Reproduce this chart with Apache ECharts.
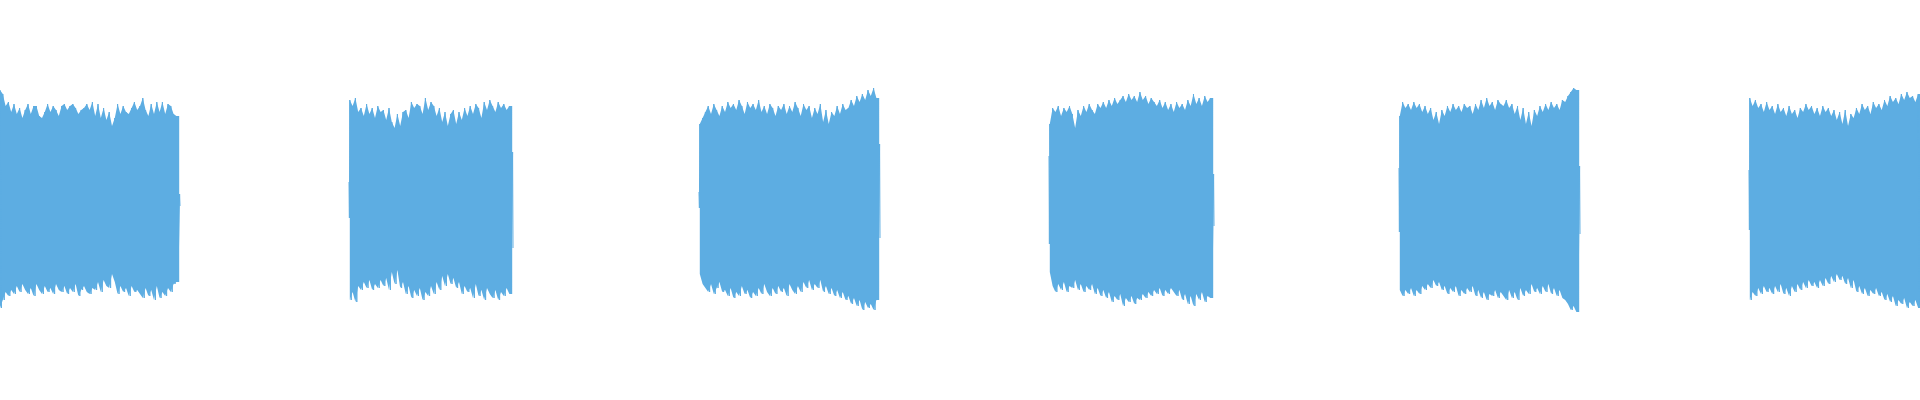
<!DOCTYPE html>
<html>
<head>
<meta charset="utf-8">
<title>waveform</title>
<script src="https://cdn.jsdelivr.net/npm/echarts@6/dist/echarts.min.js"></script>
<style>
    html, body { margin: 0; padding: 0; background: #fff; }
    #wave { width: 1920px; height: 400px; }
</style>
</head>
<body>
<div id="wave"></div>
<script>
// burst start / end on the time axis (ms)
var burst_start = [0, 349, 699, 1049, 1399, 1749];
var burst_end = [180, 513, 880, 1214, 1580, 1921];

// positive peaks of every burst
// (a small first / last value is the switch-on / switch-off edge)
var peaks_hi_1 = [0.55,0.53,0.47,0.49,0.44,0.48,0.43,0.46,0.41,0.45,
    0.48,0.43,0.47,0.47,0.42,0.41,0.44,0.48,0.44,0.47,
    0.45,0.42,0.47,0.48,0.45,0.47,0.48,0.46,0.43,0.45,
    0.46,0.48,0.45,0.49,0.42,0.48,0.41,0.46,0.40,0.44,
    0.37,0.41,0.48,0.43,0.47,0.44,0.43,0.46,0.49,0.45,
    0.47,0.51,0.45,0.42,0.48,0.43,0.49,0.44,0.49,0.43,
    0.48,0.47,0.43,0.42,0.03];
var peaks_hi_2 = [0.09,0.50,0.47,0.51,0.44,0.46,0.42,0.48,0.43,0.46,
    0.41,0.47,0.44,0.45,0.40,0.46,0.39,0.36,0.43,0.37,
    0.44,0.45,0.41,0.49,0.46,0.48,0.47,0.43,0.51,0.45,
    0.49,0.47,0.42,0.46,0.39,0.44,0.37,0.43,0.45,0.38,
    0.44,0.40,0.46,0.42,0.47,0.43,0.48,0.46,0.41,0.49,
    0.45,0.50,0.47,0.44,0.49,0.46,0.48,0.45,0.47,0.24];
var peaks_hi_3 = [0.04,0.38,0.41,0.44,0.47,0.43,0.48,0.45,0.42,0.47,
    0.44,0.49,0.46,0.48,0.45,0.50,0.47,0.43,0.49,0.46,
    0.48,0.45,0.50,0.44,0.47,0.43,0.48,0.46,0.42,0.47,
    0.45,0.48,0.43,0.47,0.44,0.49,0.46,0.42,0.48,0.45,
    0.47,0.41,0.46,0.43,0.48,0.39,0.45,0.38,0.44,0.42,
    0.47,0.43,0.48,0.45,0.46,0.50,0.47,0.52,0.49,0.53,
    0.50,0.55,0.52,0.56,0.51,0.28];
var peaks_hi_4 = [0.22,0.38,0.46,0.44,0.47,0.42,0.46,0.44,0.47,0.43,
    0.36,0.45,0.42,0.47,0.44,0.48,0.45,0.43,0.48,0.46,
    0.49,0.46,0.50,0.47,0.51,0.48,0.50,0.52,0.49,0.53,
    0.50,0.52,0.49,0.54,0.50,0.52,0.48,0.51,0.49,0.47,
    0.50,0.46,0.49,0.45,0.48,0.44,0.49,0.46,0.48,0.45,
    0.50,0.47,0.53,0.48,0.51,0.47,0.52,0.49,0.51,0.13];
var peaks_hi_5 = [0.16,0.42,0.49,0.46,0.48,0.45,0.49,0.46,0.48,0.44,
    0.47,0.43,0.46,0.40,0.44,0.38,0.45,0.42,0.47,0.44,
    0.48,0.45,0.47,0.44,0.48,0.46,0.47,0.43,0.48,0.45,
    0.50,0.46,0.51,0.47,0.49,0.45,0.50,0.48,0.47,0.50,
    0.46,0.48,0.43,0.47,0.40,0.46,0.38,0.44,0.37,0.45,
    0.42,0.47,0.44,0.48,0.45,0.49,0.46,0.48,0.45,0.50,
    0.49,0.52,0.54,0.56,0.55,0.17];
var peaks_hi_6 = [0.15,0.51,0.47,0.50,0.46,0.48,0.44,0.49,0.45,0.47,
    0.43,0.48,0.44,0.46,0.42,0.47,0.43,0.45,0.41,0.46,
    0.44,0.48,0.45,0.47,0.43,0.46,0.42,0.47,0.44,0.46,
    0.42,0.45,0.40,0.44,0.38,0.45,0.37,0.43,0.41,0.46,
    0.43,0.48,0.45,0.47,0.43,0.49,0.46,0.48,0.45,0.50,
    0.47,0.52,0.49,0.51,0.48,0.53,0.50,0.54,0.51,0.52,
    0.49,0.53];

// negative peaks of every burst
var peaks_lo_1 = [-0.54,-0.50,-0.46,-0.48,-0.45,-0.47,-0.43,-0.46,-0.42,-0.45,
    -0.47,-0.44,-0.48,-0.42,-0.45,-0.47,-0.43,-0.46,-0.44,-0.47,
    -0.42,-0.45,-0.46,-0.43,-0.47,-0.44,-0.46,-0.42,-0.48,-0.45,
    -0.43,-0.46,-0.47,-0.44,-0.45,-0.41,-0.46,-0.40,-0.43,-0.44,
    -0.37,-0.41,-0.47,-0.43,-0.46,-0.44,-0.48,-0.43,-0.46,-0.45,
    -0.47,-0.49,-0.44,-0.48,-0.45,-0.50,-0.43,-0.49,-0.46,-0.48,
    -0.44,-0.46,-0.42,-0.41,-0.03];
var peaks_lo_2 = [-0.09,-0.50,-0.46,-0.51,-0.43,-0.45,-0.41,-0.44,-0.40,-0.45,
    -0.42,-0.44,-0.40,-0.43,-0.39,-0.45,-0.36,-0.42,-0.35,-0.44,
    -0.41,-0.47,-0.43,-0.49,-0.45,-0.48,-0.44,-0.50,-0.46,-0.48,
    -0.43,-0.47,-0.41,-0.45,-0.38,-0.43,-0.37,-0.42,-0.39,-0.44,
    -0.41,-0.47,-0.43,-0.46,-0.44,-0.49,-0.42,-0.48,-0.45,-0.50,
    -0.44,-0.47,-0.49,-0.45,-0.50,-0.46,-0.48,-0.44,-0.47,-0.24];
var peaks_lo_3 = [-0.04,-0.37,-0.42,-0.44,-0.46,-0.42,-0.47,-0.44,-0.41,-0.46,
    -0.45,-0.48,-0.44,-0.49,-0.46,-0.48,-0.43,-0.47,-0.45,-0.49,
    -0.46,-0.48,-0.44,-0.47,-0.42,-0.46,-0.48,-0.44,-0.47,-0.43,
    -0.46,-0.44,-0.48,-0.42,-0.45,-0.47,-0.43,-0.46,-0.41,-0.44,
    -0.40,-0.45,-0.42,-0.44,-0.40,-0.46,-0.43,-0.47,-0.44,-0.48,
    -0.45,-0.49,-0.46,-0.50,-0.48,-0.52,-0.49,-0.53,-0.50,-0.55,
    -0.51,-0.54,-0.52,-0.55,-0.50,-0.19];
var peaks_lo_4 = [-0.22,-0.36,-0.43,-0.46,-0.42,-0.45,-0.41,-0.46,-0.43,-0.44,
    -0.40,-0.45,-0.42,-0.46,-0.43,-0.45,-0.42,-0.47,-0.44,-0.48,
    -0.45,-0.49,-0.46,-0.51,-0.48,-0.50,-0.47,-0.53,-0.49,-0.51,
    -0.48,-0.52,-0.49,-0.50,-0.47,-0.49,-0.46,-0.48,-0.45,-0.47,
    -0.44,-0.48,-0.45,-0.47,-0.44,-0.46,-0.48,-0.45,-0.50,-0.47,
    -0.52,-0.48,-0.53,-0.47,-0.50,-0.46,-0.51,-0.48,-0.49,-0.13];
var peaks_lo_5 = [-0.16,-0.45,-0.48,-0.45,-0.47,-0.44,-0.48,-0.45,-0.47,-0.43,
    -0.45,-0.42,-0.44,-0.40,-0.43,-0.41,-0.45,-0.43,-0.47,-0.44,
    -0.46,-0.43,-0.48,-0.45,-0.47,-0.44,-0.46,-0.43,-0.48,-0.45,
    -0.49,-0.46,-0.50,-0.47,-0.48,-0.45,-0.49,-0.46,-0.48,-0.50,
    -0.45,-0.49,-0.46,-0.50,-0.44,-0.48,-0.45,-0.47,-0.42,-0.46,
    -0.44,-0.47,-0.43,-0.46,-0.42,-0.47,-0.44,-0.48,-0.45,-0.49,
    -0.50,-0.52,-0.55,-0.53,-0.56,-0.17];
var peaks_lo_6 = [-0.15,-0.50,-0.46,-0.48,-0.44,-0.47,-0.43,-0.46,-0.44,-0.47,
    -0.43,-0.46,-0.42,-0.47,-0.44,-0.48,-0.43,-0.46,-0.42,-0.45,
    -0.41,-0.44,-0.40,-0.43,-0.41,-0.44,-0.40,-0.43,-0.39,-0.42,
    -0.38,-0.41,-0.37,-0.40,-0.38,-0.42,-0.39,-0.44,-0.40,-0.46,
    -0.43,-0.47,-0.44,-0.48,-0.45,-0.47,-0.44,-0.48,-0.46,-0.50,
    -0.47,-0.51,-0.48,-0.53,-0.50,-0.52,-0.49,-0.54,-0.51,-0.53,
    -0.50,-0.54];

var peaks_hi = [peaks_hi_1, peaks_hi_2, peaks_hi_3, peaks_hi_4, peaks_hi_5, peaks_hi_6];
var peaks_lo = [peaks_lo_1, peaks_lo_2, peaks_lo_3, peaks_lo_4, peaks_lo_5, peaks_lo_6];
var wave_color = '#5dade2';

// which = 'hi' | 'lo' | 'both'; both -> up/down zigzag of the peaks
// body = true leaves the on/off edge out so the body has straight sides
function burst_data(k, which, body){
    var hi = peaks_hi[k], lo = peaks_lo[k];
    var n = Math.min(hi.length, lo.length);
    var edge_in = Math.abs(hi[0]) < 0.3;
    var edge_out = Math.abs(hi[n-1]) < 0.3;
    var a = edge_in ? 1 : 0, b = edge_out ? n-2 : n-1;
    var x0 = burst_start[k] + (edge_in ? 0.8 : 0);
    var x1 = burst_end[k] - (edge_out ? 0.8 : 0);
    var step = (x1 - x0) / (b - a + 1);
    var data = [];
    if(edge_in && !body){
        data.push([burst_start[k], hi[0]]);
        data.push([burst_start[k] + 0.4, lo[0]]);
    }
    for(var i=a;i<=b;i++){
        var x = x0 + (i-a)*step;
        if(which != 'lo') data.push([x, hi[i]]);
        if(which != 'hi') data.push([x + (body ? 0 : 0.5*step), lo[i]]);
    }
    if(body){
        // carry the last peak on to the end of the body
        data.push([x1, which == 'hi' ? hi[b] : lo[b]]);
    }
    if(edge_out && !body){
        data.push([burst_end[k] - 0.4, hi[n-1]]);
        data.push([burst_end[k], lo[n-1]]);
    }
    return data;
}

function init_wave(){
    var myChart = echarts.init(document.getElementById('wave'));
    var series = [];
    for(var k=0;k<burst_start.length;k++){
        // solid body: upper half and lower half filled to zero
        series.push({
            type: 'line', data: burst_data(k, 'hi', true), showSymbol: false, silent: true,
            lineStyle: {width: 0},
            areaStyle: {color: wave_color, opacity: 1, origin: 0}
        });
        series.push({
            type: 'line', data: burst_data(k, 'lo', true), showSymbol: false, silent: true,
            lineStyle: {width: 0},
            areaStyle: {color: wave_color, opacity: 1, origin: 0}
        });
        // the oscillation itself
        series.push({
            type: 'line', data: burst_data(k, 'both', false), showSymbol: false, silent: true,
            lineStyle: {color: wave_color, width: 1}
        });
    }
    var option = {
        animation: false,
        grid: {left: 0, right: 0, top: 0, bottom: 0},
        xAxis: {type: 'value', min: 0, max: 1920, show: false},
        yAxis: {type: 'value', min: -1, max: 1, show: false},
        series: series
    };
    myChart.setOption(option);
}

init_wave();
</script>
</body>
</html>
